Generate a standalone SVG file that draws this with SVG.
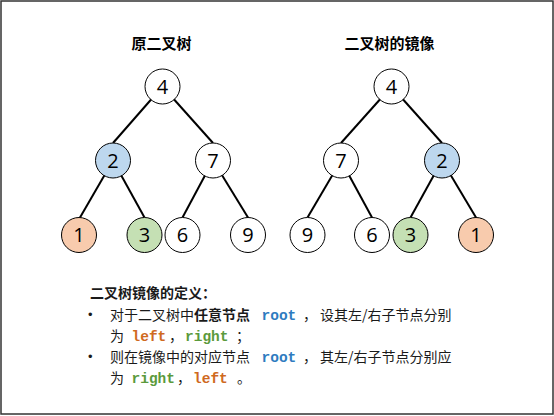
<svg xmlns="http://www.w3.org/2000/svg" width="554" height="416" viewBox="0 0 554 416">
<style>
.node circle{stroke:#000;stroke-width:1}
.node text{font-family:"Open Sans","Noto Sans",sans-serif;font-size:20px;text-anchor:middle;fill:#000}
.edges line{stroke:#000;stroke-width:2}
.title{font-family:"Noto Sans CJK SC",sans-serif;font-size:15px;font-weight:bold;text-anchor:middle;fill:#000}
.cn{font-family:"Noto Sans CJK SC",sans-serif;font-size:14px;fill:#1a1a1a}
.bul{font-family:"Liberation Sans",sans-serif;font-size:13px;fill:#1a1a1a}
.b{font-weight:bold}
.mono{font-family:"Liberation Mono","DejaVu Sans Mono",monospace;font-size:14.5px;font-weight:bold}
.blue{fill:#2E7BC0}
.orange{fill:#CF6A1F}
.green{fill:#5B9A3C}
</style>
<rect x="1" y="1" width="552" height="413" fill="#fff" stroke="#333" stroke-width="1.5"/>
<text class="title" x="161.5" y="49">原二叉树</text>
<text class="title" x="389.5" y="49">二叉树的镜像</text>
<g class="edges">
<line x1="162.5" y1="86.5" x2="113" y2="143"/>
<line x1="162.5" y1="86.5" x2="213" y2="143"/>
<line x1="113" y1="160.5" x2="80" y2="217.5"/>
<line x1="113" y1="160.5" x2="144.5" y2="217.5"/>
<line x1="213" y1="160.5" x2="182.5" y2="217.5"/>
<line x1="213" y1="160.5" x2="248" y2="217.5"/>
<line x1="391.5" y1="86.5" x2="341" y2="143"/>
<line x1="391.5" y1="86.5" x2="442" y2="143"/>
<line x1="341" y1="160.5" x2="307.5" y2="217.5"/>
<line x1="341" y1="160.5" x2="372" y2="217.5"/>
<line x1="442" y1="160.5" x2="410.5" y2="217.5"/>
<line x1="442" y1="160.5" x2="476" y2="217.5"/>
</g>
<g id="L4" class="node"><circle cx="162.5" cy="86.5" r="17.5" fill="#fff"/><text x="162.5" y="93.5">4</text></g>
<g id="L2" class="node"><circle cx="113" cy="160.5" r="17.5" fill="#BDD7EE"/><text x="113" y="167.5">2</text></g>
<g id="L7" class="node"><circle cx="213" cy="160.5" r="17.5" fill="#fff"/><text x="213" y="167.5">7</text></g>
<g id="L1" class="node"><circle cx="79" cy="235" r="17.5" fill="#F8CBAD"/><text x="79" y="242">1</text></g>
<g id="L3" class="node"><circle cx="144.5" cy="235" r="17.5" fill="#C5E0B4"/><text x="144.5" y="242">3</text></g>
<g id="L6" class="node"><circle cx="182.5" cy="235" r="17.5" fill="#fff"/><text x="182.5" y="242">6</text></g>
<g id="L9" class="node"><circle cx="248" cy="235" r="17.5" fill="#fff"/><text x="248" y="242">9</text></g>
<g id="R4" class="node"><circle cx="391.5" cy="86.5" r="17.5" fill="#fff"/><text x="391.5" y="93.5">4</text></g>
<g id="R7" class="node"><circle cx="341" cy="160.5" r="17.5" fill="#fff"/><text x="341" y="167.5">7</text></g>
<g id="R2" class="node"><circle cx="442" cy="160.5" r="17.5" fill="#BDD7EE"/><text x="442" y="167.5">2</text></g>
<g id="R9" class="node"><circle cx="307.5" cy="235" r="17.5" fill="#fff"/><text x="307.5" y="242">9</text></g>
<g id="R6" class="node"><circle cx="372" cy="235" r="17.5" fill="#fff"/><text x="372" y="242">6</text></g>
<g id="R3" class="node"><circle cx="410.5" cy="235" r="17.5" fill="#C5E0B4"/><text x="410.5" y="242">3</text></g>
<g id="R1" class="node"><circle cx="476" cy="235" r="17.5" fill="#F8CBAD"/><text x="476" y="242">1</text></g>
<g id="definition">
<text class="cn b" x="90" y="298">二叉树镜像的定义：</text>
<text class="bul" x="88" y="319">•</text>
<text class="cn" x="110" y="320">对于二叉树中<tspan class="b">任意节点</tspan></text>
<text class="mono blue" x="261.5" y="320">root</text>
<text class="cn" x="303" y="320">，</text>
<text class="cn" x="320" y="320">设其左/右子节点分别</text>
<text class="cn" x="110" y="341">为</text>
<text class="mono orange" x="131.5" y="341">left</text>
<text class="cn" x="169" y="341">，</text>
<text class="mono green" x="185" y="341">right</text>
<text class="cn" x="236" y="341">；</text>
<text class="bul" x="88" y="361">•</text>
<text class="cn" x="110" y="362">则在镜像中的对应节点</text>
<text class="mono blue" x="261.5" y="362">root</text>
<text class="cn" x="303" y="362">，</text>
<text class="cn" x="320" y="362">其左/右子节点分别应</text>
<text class="cn" x="110" y="383">为</text>
<text class="mono green" x="131.5" y="383">right</text>
<text class="cn" x="177" y="383">，</text>
<text class="mono orange" x="193" y="383">left</text>
<text class="cn" x="237" y="383">。</text>
</g>
</svg>
